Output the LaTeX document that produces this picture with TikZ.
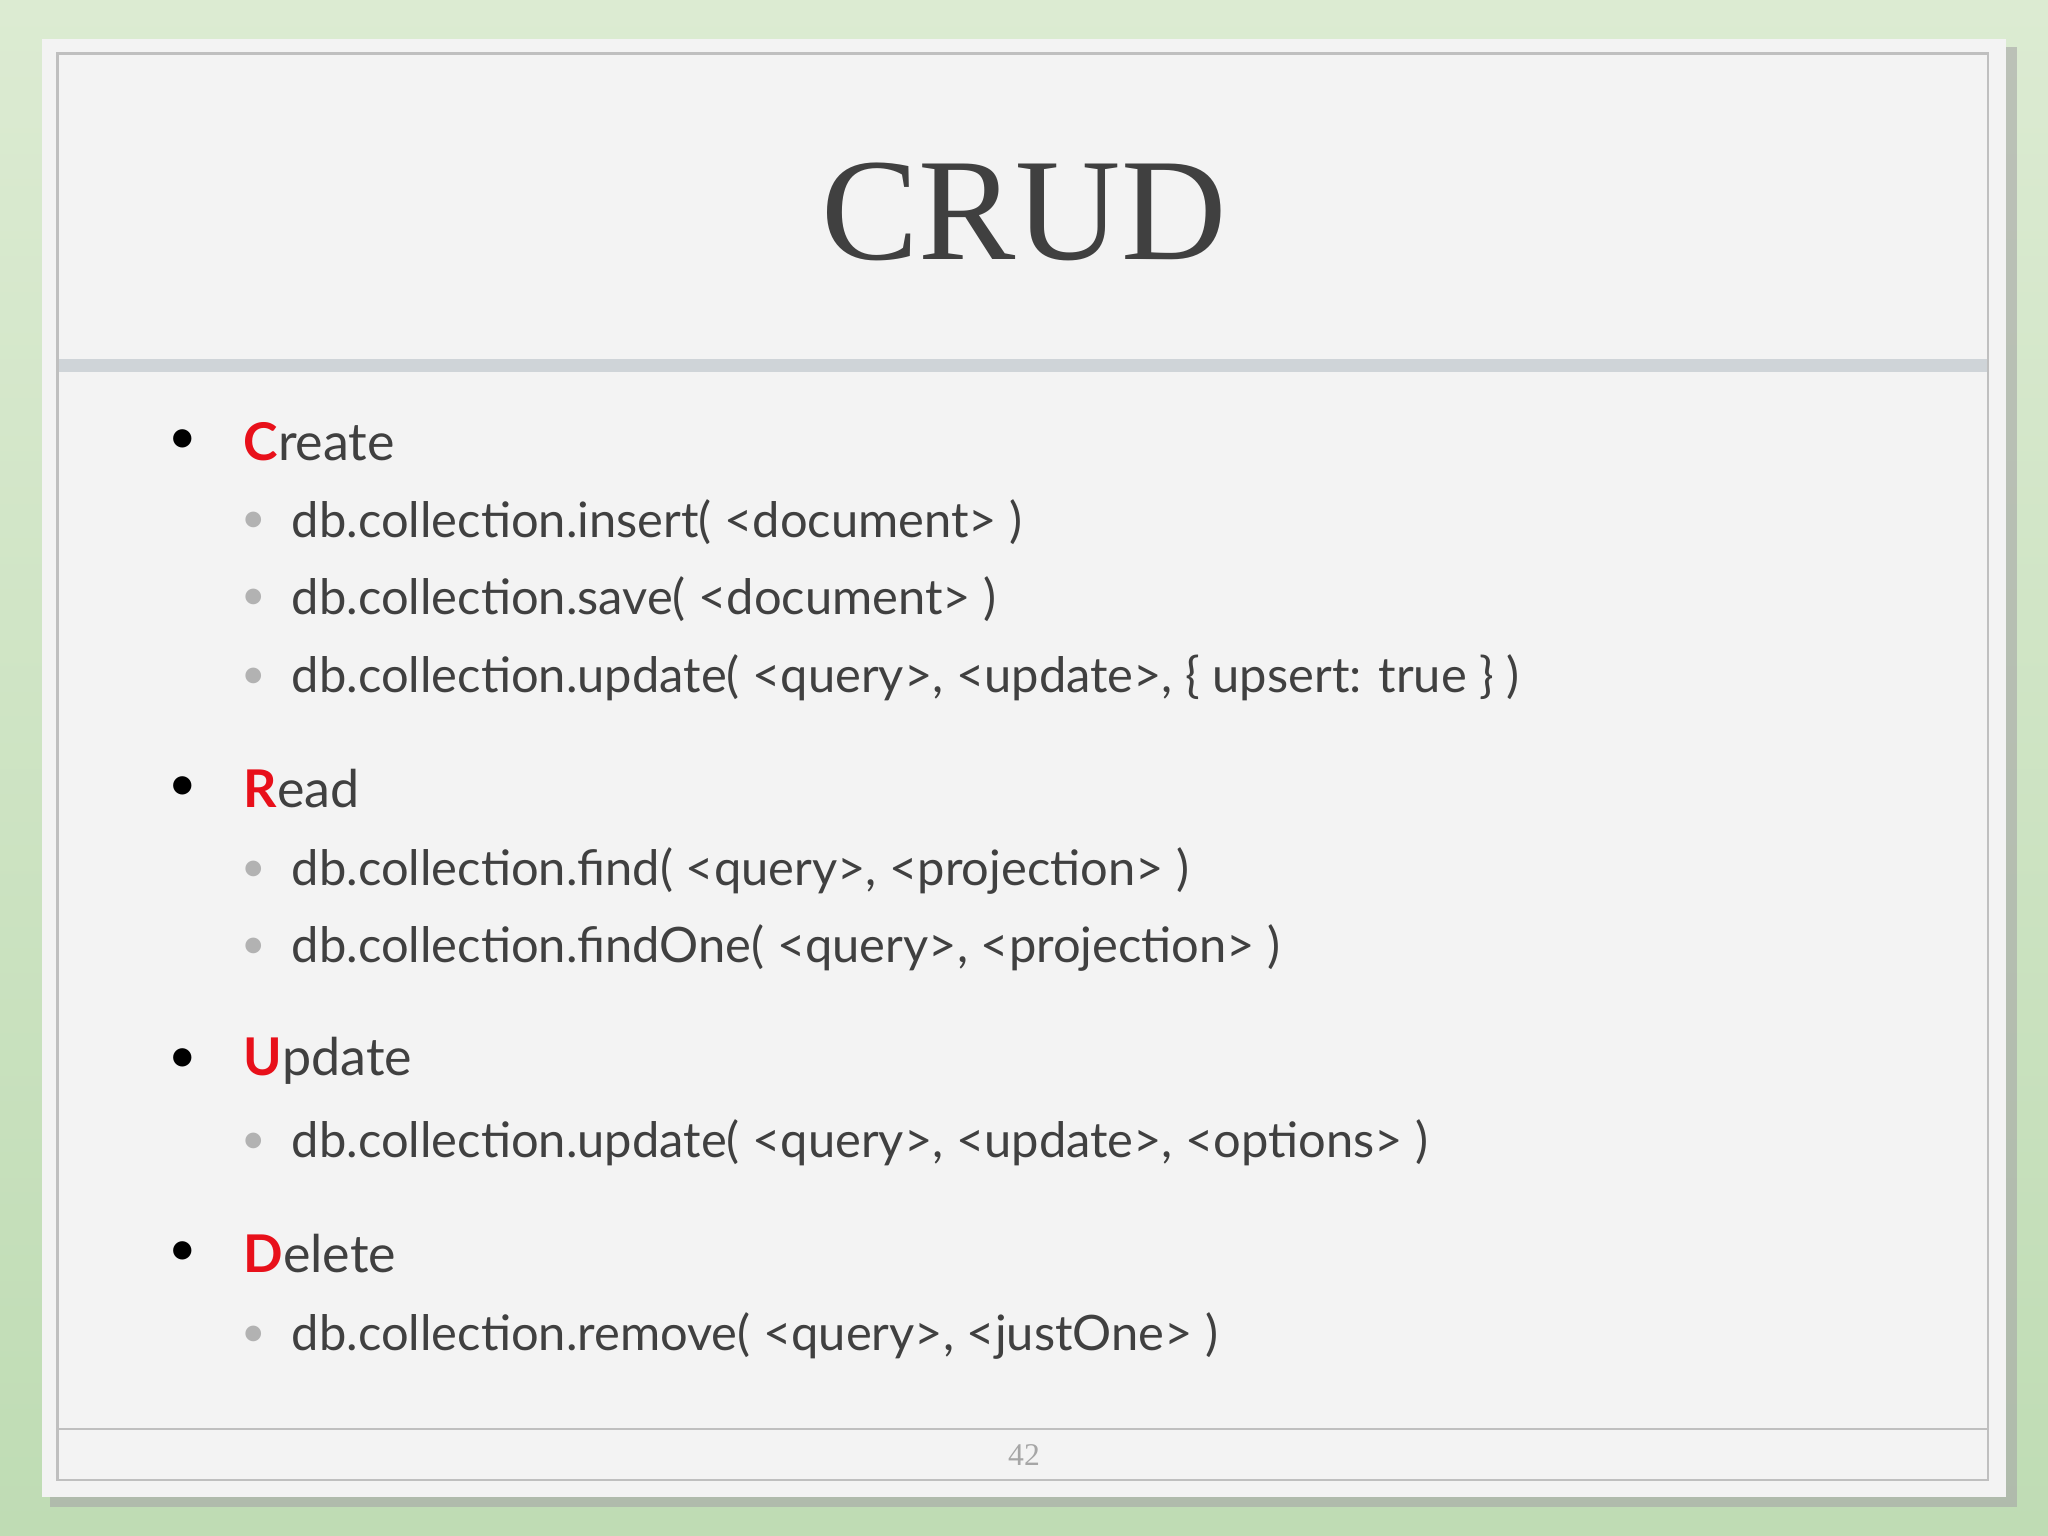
\documentclass[tikz,border=0pt]{standalone}
\usepackage{fontspec}
\setmainfont{Lato}
\newfontfamily\serifface{Liberation Serif}
\usetikzlibrary{shadows}
\definecolor{txt}{HTML}{404040}
\definecolor{crud}{HTML}{E8101A}
\definecolor{bga}{HTML}{BFDCB4}
\definecolor{bgb}{HTML}{DCEBD2}
\definecolor{slide}{HTML}{F3F3F3}
\definecolor{bar}{HTML}{CFD4D8}
\begin{document}
\begin{tikzpicture}[x=0.013061cm,y=-0.013061cm,
  main/.style={anchor=west,text=txt,font=\fontsize{14.8}{18}\selectfont,inner sep=0pt},
  sub/.style={anchor=west,text=txt,font=\fontsize{13.9}{16}\selectfont,inner sep=0pt},
  dot/.style={text=black,font=\fontsize{14}{16}\selectfont,inner sep=0pt},
  sdot/.style={text=gray!60,font=\fontsize{12}{14}\selectfont,inner sep=0pt}]
\useasboundingbox (0,0) rectangle (1568,1176);
\shade[top color=bgb,bottom color=bga] (0,0) rectangle (1568,1176);
\fill[black!35,opacity=0.6] (38,36) rectangle (1544,1154);
\fill[slide] (32,30) rectangle (1536,1146);
\draw[gray!50,line width=0.6pt] (44,41) rectangle (1522,1133);
\fill[bar] (45,275) rectangle (1521,285);
\draw[gray!50,line width=0.6pt] (44,1094) -- (1522,1094);
\node[text=txt,font=\serifface\fontsize{41.5}{48}\selectfont] (title) at (784,162) {CRUD};
\node[text=gray!70,font=\serifface\fontsize{9}{10}\selectfont] (pg) at (784,1114) {42};
\foreach \y/\w in {338/{\textcolor{crud}{\bfseries C}reate},604/{\textcolor{crud}{\bfseries R}ead},812/{\textcolor{crud}{\bfseries U}pdate},960/{\textcolor{crud}{\bfseries D}elete}}{
  \node[dot] at (140,\y) {•};
  \node[main] at (186,\y) {\w};
}
\foreach \y/\w in {400/{db.collection.insert( <document> )},459/{db.collection.save( <document> )},519/{db.collection.update( <query>, <update>, \{ upsert: true \} )},667/{db.collection.find( <query>, <projection> )},726/{db.collection.findOne( <query>, <projection> )},875/{db.collection.update( <query>, <update>, <options> )},1023/{db.collection.remove( <query>, <justOne> )}}{
  \node[sdot] at (194,\y) {•};
  \node[sub] at (223,\y) {\w};
}
\end{tikzpicture}
\end{document}
